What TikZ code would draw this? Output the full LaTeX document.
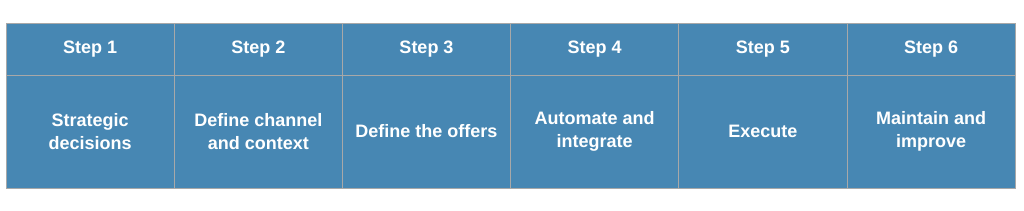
\documentclass[tikz,border=0pt]{standalone}
\usepackage{fontspec}
\setmainfont{Liberation Sans}
\definecolor{mStepBlue}{HTML}{4787B3}
\definecolor{mGridGray}{HTML}{A8A8A8}
\usepackage{tikz}
\usetikzlibrary{positioning}

\begin{document}
\begin{tikzpicture}[x=1pt, y=-1pt, font=\bfseries\fontsize{18}{22.5}\selectfont,
  cell/.style={draw=mGridGray, line width=1pt, fill=mStepBlue, text=white, align=center, minimum width=168.2pt, inner sep=0pt, outer sep=0pt},
  head/.style={cell, minimum height=52pt},
  body/.style={cell, minimum height=113pt}]
\useasboundingbox (0,0) rectangle (1024,210);
\node[head] (h1) at (90.1,49) {Step 1};
\node[head] (h2) at (258.3,49) {Step 2};
\node[head] (h3) at (426.5,49) {Step 3};
\node[head] (h4) at (594.7,49) {Step 4};
\node[head] (h5) at (762.9,49) {Step 5};
\node[head] (h6) at (931.1,49) {Step 6};
\node[body, below=0pt of h1] (b1) {Strategic\\decisions};
\node[body, below=0pt of h2] (b2) {Define channel\\and context};
\node[body, below=0pt of h3] (b3) {Define the offers};
\node[body, below=0pt of h4] (b4) {Automate and\\integrate};
\node[body, below=0pt of h5] (b5) {Execute};
\node[body, below=0pt of h6] (b6) {Maintain and\\improve};
\end{tikzpicture}
\end{document}
